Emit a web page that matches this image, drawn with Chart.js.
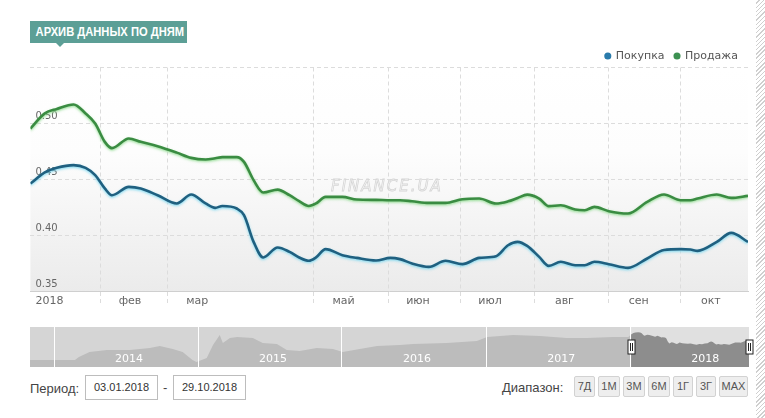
<!DOCTYPE html>
<html><head><meta charset="utf-8">
<script src="https://cdn.jsdelivr.net/npm/chart.js@4.4.0/dist/chart.umd.min.js"></script>
<style>
html,body{margin:0;padding:0;background:#fff;}
body{width:765px;height:418px;position:relative;overflow:hidden;font-family:"Liberation Sans",Arial,sans-serif;}
#main{position:absolute;left:0;top:0;}
#nav{position:absolute;left:0;top:327px;}
.badge{position:absolute;left:30px;top:21px;width:157px;height:22px;background:#5c9f96;color:#fff;font:bold 12px "Liberation Sans",Arial,sans-serif;line-height:22px;text-align:center;white-space:nowrap;}
.badge span{display:inline-block;transform:scaleX(0.93);}
.badge:after{content:"";position:absolute;left:26px;top:22px;border-left:4px solid transparent;border-right:4px solid transparent;border-top:4px solid #5c9f96;}
.hatch{position:absolute;left:756px;top:0;width:9px;height:418px;background:repeating-linear-gradient(135deg,#fff 0 2px,#cfcfcf 2px 3px);}
.lbl{position:absolute;font-size:13px;color:#444;line-height:15px;}
.box{position:absolute;top:375px;height:25px;width:73px;border:1px solid #bdbdbd;box-sizing:border-box;font-size:11px;color:#333;text-align:center;line-height:23px;}
.btn{position:absolute;top:376px;height:21px;border:1px solid #d2d2d2;background:#eeeeee;box-sizing:border-box;font-size:11px;color:#555;text-align:center;line-height:19px;border-radius:2px;}
</style></head>
<body>
<canvas id="main" width="765" height="312"></canvas>
<canvas id="nav" width="765" height="40"></canvas>
<div class="badge"><span>АРХИВ ДАННЫХ ПО ДНЯМ</span></div>
<div class="hatch"></div>
<div class="lbl" style="left:30px;top:381px;">Период:</div>
<div class="box" style="left:85px;">03.01.2018</div>
<div class="lbl" style="left:163px;top:380px;">-</div>
<div class="box" style="left:173px;">29.10.2018</div>
<div class="lbl" style="left:502px;top:380px;">Диапазон:</div>
<div class="btn" style="left:574px;width:21px;">7Д</div>
<div class="btn" style="left:598px;width:22px;">1М</div>
<div class="btn" style="left:623px;width:22px;">3М</div>
<div class="btn" style="left:648px;width:22px;">6М</div>
<div class="btn" style="left:673px;width:20px;">1Г</div>
<div class="btn" style="left:696px;width:20px;">3Г</div>
<div class="btn" style="left:719px;width:29px;">MAX</div>
<script>
// ---------- data ----------
const dates = ['2018-01-03','2018-01-09','2018-01-14','2018-01-21','2018-01-26','2018-01-30','2018-02-03','2018-02-06','2018-02-13','2018-02-18','2018-02-25',
'2018-03-05','2018-03-11','2018-03-17','2018-03-21','2018-03-24','2018-03-30','2018-04-02','2018-04-06','2018-04-10','2018-04-16','2018-04-21','2018-04-25','2018-04-29',
'2018-05-02','2018-05-06','2018-05-13','2018-05-19','2018-05-27','2018-06-02','2018-06-06','2018-06-11','2018-06-18','2018-06-25','2018-07-02','2018-07-09','2018-07-16',
'2018-07-21','2018-07-25','2018-07-29','2018-08-03','2018-08-07','2018-08-12','2018-08-18','2018-08-22','2018-08-26','2018-09-01','2018-09-09','2018-09-17','2018-09-24',
'2018-10-01','2018-10-05','2018-10-08','2018-10-16','2018-10-22','2018-10-29'];
const buyValues = [0.4464,0.4563,0.4604,0.4628,0.4604,0.4539,0.4420,0.4360,0.4434,0.4420,0.4360,
0.4286,0.4366,0.4286,0.4247,0.4264,0.4241,0.4181,0.3943,0.3804,0.3893,0.3854,0.3804,0.3774,
0.3804,0.3878,0.3824,0.3800,0.3777,0.3800,0.3789,0.3750,0.3720,0.3774,0.3744,0.3800,0.3815,
0.3913,0.3943,0.3907,0.3809,0.3729,0.3765,0.3735,0.3735,0.3765,0.3744,0.3711,0.3795,0.3870,
0.3878,0.3875,0.3863,0.3943,0.4023,0.3943];
const sellValues = [0.4955,0.5090,0.5130,0.5170,0.5090,0.5000,0.4836,0.4780,0.4866,0.4836,0.4797,
0.4740,0.4693,0.4679,0.4690,0.4700,0.4700,0.4657,0.4494,0.4384,0.4410,0.4360,0.4306,0.4264,
0.4286,0.4345,0.4345,0.4321,0.4318,0.4315,0.4315,0.4306,0.4291,0.4291,0.4324,0.4330,0.4286,
0.4305,0.4335,0.4365,0.4330,0.4262,0.4270,0.4232,0.4226,0.4256,0.4217,0.4196,0.4300,0.4366,
0.4315,0.4315,0.4330,0.4366,0.4336,0.4354];
const seriesNames = ['Покупка','Продажа'];
const monthTickDates = ['2018-02-01','2018-03-01','2018-05-01','2018-06-01','2018-07-01','2018-08-01','2018-09-01','2018-10-01'];
const monthLabels = ['фев','мар','май','июн','июл','авг','сен','окт'];
const yearLabel = '2018';
const yTickValues = [0.35,0.40,0.45,0.50,0.55];

// navigator history (before 2018), then 2018 continues with buyValues
const navDates = ['2013-11-01','2014-02-23','2014-03-05','2014-04-01','2014-05-15','2014-07-12','2014-09-01','2014-09-26','2014-10-29','2014-11-23','2014-12-18','2014-12-28',
'2015-01-23','2015-02-08','2015-02-25','2015-03-05','2015-03-23','2015-04-10','2015-05-20','2015-06-14','2015-07-20','2015-08-14','2015-09-16','2015-10-29','2015-12-09',
'2016-01-03','2016-02-15','2016-03-30','2016-05-27','2016-06-29','2016-09-23','2016-12-08','2017-01-03','2017-03-10','2017-05-17','2017-07-24','2017-09-13','2017-11-18','2017-12-27'];
const navValues = [0.261,0.261,0.2825,0.319,0.333,0.333,0.348,0.362,0.341,0.319,0.261,0.246,
0.275,0.370,0.442,0.384,0.420,0.4275,0.420,0.384,0.377,0.333,0.326,0.348,0.341,
0.319,0.341,0.362,0.370,0.377,0.384,0.3985,0.4275,0.442,0.435,0.420,0.420,0.4275,0.4275];
const navYears = ['2014-01-01','2015-01-01','2016-01-01','2017-01-01','2018-01-01'];
const navYearLabels = ['2014','2015','2016','2017','2018'];

// ---------- helpers ----------
function dayNum(s){const p=s.split('-').map(Number);return (Date.UTC(p[0],p[1]-1,p[2])-Date.UTC(2018,0,1))/864e5;}
const xs = dates.map(dayNum);
const xMin = xs[0], xMax = xs[xs.length-1];
const monthTicks = monthTickDates.map(dayNum);
const LABEL_SHIFT = 12.5; // days: month labels sit right of the month line
const labelTicks = [xMin + 8].concat(monthTicks.map(v=>v+LABEL_SHIFT));
const labelTexts = [yearLabel].concat(monthLabels);

const FONT = '"DejaVu Sans", Verdana, sans-serif';

const bgPlugin = {
  id:'bg',
  beforeDraw(chart){
    const {ctx, chartArea:a} = chart;
    const g = ctx.createLinearGradient(0,a.top,0,a.bottom);
    g.addColorStop(0,'#ffffff'); g.addColorStop(0.38,'#fdfdfd'); g.addColorStop(1,'#ebebeb');
    ctx.save(); ctx.fillStyle=g; ctx.fillRect(a.left,a.top,a.right-a.left,a.bottom-a.top); ctx.restore();
  },
  beforeDatasetsDraw(chart){
    const ctx = chart.ctx;
    ctx.save();
    ctx.font = 'italic 15px ' + FONT;
    try{ ctx.letterSpacing = '2px'; }catch(e){}
    ctx.strokeStyle = '#d6d6d6'; ctx.lineWidth = 0.8;
    ctx.textBaseline='middle';
    ctx.strokeText('FINANCE.UA', 331, 187);
    ctx.restore();
  }
};
const glowPlugin = {
  id:'glow',
  beforeDatasetDraw(chart,args){const ds=chart.data.datasets[args.index]; if(!ds.glow) return; const c=chart.ctx; c.save(); c.shadowColor=ds.glow; c.shadowBlur=2.5; c.shadowOffsetY=1.2;},
  afterDatasetDraw(chart,args){ if(chart.data.datasets[args.index].glow) chart.ctx.restore(); }
};
const legendColors = ['#2a7bab','#3d9152'];

new Chart(document.getElementById('main'), {
  type:'line',
  data:{ datasets:[
    {label:seriesNames[0], data:xs.map((x,i)=>({x, y:buyValues[i]})), borderColor:'#1f6080', glow:'rgba(120,215,240,0.9)', borderWidth:2.6, pointRadius:0, cubicInterpolationMode:'monotone', fill:false},
    {label:seriesNames[1], data:xs.map((x,i)=>({x, y:sellValues[i]})), borderColor:'#3a8c42', glow:'rgba(140,220,140,0.9)', borderWidth:2.6, pointRadius:0, cubicInterpolationMode:'monotone', fill:false}
  ]},
  options:{
    responsive:false, animation:false, devicePixelRatio:1,
    layout:{padding:{left:30.4, right:17, top:40.5, bottom:0}},
    plugins:{
      tooltip:{enabled:false},
      legend:{position:'top', align:'end', maxHeight:27,
        labels:{usePointStyle:true, pointStyle:'circle', boxWidth:5, boxHeight:5, padding:10, color:'#555', font:{family:FONT, size:11},
          generateLabels(chart){ return chart.data.datasets.map((d,i)=>({text:d.label, fillStyle:legendColors[i], strokeStyle:legendColors[i], lineWidth:0, pointStyle:'circle', datasetIndex:i, hidden:false, fontColor:'#555'})); }
        }
      }
    },
    scales:{
      x:{type:'linear', min:xMin, max:xMax, weight:0,
        afterBuildTicks(s){ s.ticks = monthTicks.map(v=>({value:v})); },
        afterFit(s){ s.height = 14; },
        ticks:{display:false, autoSkip:false},
        grid:{color:'#dcdcdc', tickColor:'#dcdcdc', tickLength:14, tickBorderDash:[4,3], drawTicks:true},
        border:{display:true, color:'#cfcfcf', dash:[4,3]}
      },
      xl:{type:'linear', position:'bottom', min:xMin, max:xMax, weight:1,
        afterBuildTicks(s){ s.ticks = labelTicks.map(v=>({value:v})); },
        afterFit(s){ s.height = 6.5; },
        ticks:{autoSkip:false, maxRotation:0, mirror:true, padding:-2.6, color:'#666', font:{family:FONT, size:11, lineHeight:1.2},
          callback(v){ const i = labelTicks.findIndex(t=>Math.abs(t-v)<1e-6); return i>=0 ? labelTexts[i] : ''; }},
        grid:{display:false, drawTicks:false},
        border:{display:false}
      },
      y:{type:'linear', position:'left', min:0.35, max:0.55,
        afterBuildTicks(s){ s.ticks = yTickValues.map(v=>({value:v})); },
        afterFit(s){ s.width = 0; },
        ticks:{mirror:true, padding:5, labelOffset:-7, color:'#666', font:{family:FONT, size:10},
          callback(v){ return v>0.549 ? '' : v.toFixed(2); }},
        grid:{drawTicks:false, color(c){ return (c.tick && Math.abs(c.tick.value-0.35)<1e-6) ? 'rgba(0,0,0,0)' : '#dcdcdc'; }},
        border:{display:false, dash:[4,3]}
      }
    }
  },
  plugins:[bgPlugin, glowPlugin]
});

// ---------- navigator ----------
const navX = navDates.map(dayNum).concat(xs);
const navY = navValues.concat(buyValues);
const selStart = xMin;
const navBg = {
  id:'navbg',
  beforeDraw(chart){
    const {ctx, chartArea:a} = chart; const sx = chart.scales.x.getPixelForValue(selStart);
    ctx.save(); ctx.fillStyle='#d5d5d5'; ctx.fillRect(a.left,a.top,sx-a.left,a.bottom-a.top);
    ctx.fillStyle='#e0e0e0'; ctx.fillRect(sx,a.top,a.right-sx,a.bottom-a.top); ctx.restore();
  },
  afterDraw(chart){
    const {ctx} = chart; const sc = chart.scales.x;
    const cy = 20;
    [sc.getPixelForValue(selStart), sc.getPixelForValue(xMax)].forEach(px=>{
      const x = Math.round(px)+0.5;
      ctx.save(); ctx.fillStyle='#fff'; ctx.strokeStyle='#222'; ctx.lineWidth=1;
      ctx.fillRect(x-3.5,cy-7,7,14); ctx.strokeRect(x-3.5,cy-7,7,14);
      ctx.beginPath(); ctx.moveTo(x-1,cy-4); ctx.lineTo(x-1,cy+4); ctx.moveTo(x+1,cy-4); ctx.lineTo(x+1,cy+4); ctx.stroke();
      ctx.restore();
    });
  }
};
const navMin = dayNum(navDates[0]);
const navTicks = navYears.map(dayNum);
new Chart(document.getElementById('nav'), {
  type:'line',
  data:{datasets:[{data:navX.map((x,i)=>({x,y:navY[i]})), borderWidth:0, pointRadius:0, fill:'start', tension:0,
    backgroundColor:'#bcbcbc',
    segment:{backgroundColor(c){ return c.p0.parsed.x >= selStart-0.5 ? '#8d8d8d' : '#bcbcbc'; }}
  }]},
  options:{
    responsive:false, animation:false, devicePixelRatio:1,
    layout:{padding:{left:30, right:16, top:0, bottom:0}},
    plugins:{legend:{display:false}, tooltip:{enabled:false}},
    scales:{
      x:{type:'linear', min:navMin, max:xMax,
        afterBuildTicks(s){ s.ticks = navTicks.map(v=>({value:v})); },
        afterFit(s){ s.height = 0; },
        ticks:{z:1, autoSkip:false, maxRotation:0, mirror:true, labelOffset:75, padding:1.2, color:'#ffffff', font:{family:FONT, size:11, lineHeight:1.2},
          callback(v){ const i = navTicks.findIndex(t=>Math.abs(t-v)<1e-6); return i>=0 ? navYearLabels[i] : ''; }},
        grid:{z:1, color:'#ffffff', drawTicks:false},
        border:{display:false}
      },
      y:{display:false, min:0.21, max:0.50}
    }
  },
  plugins:[navBg]
});
</script>
</body></html>
